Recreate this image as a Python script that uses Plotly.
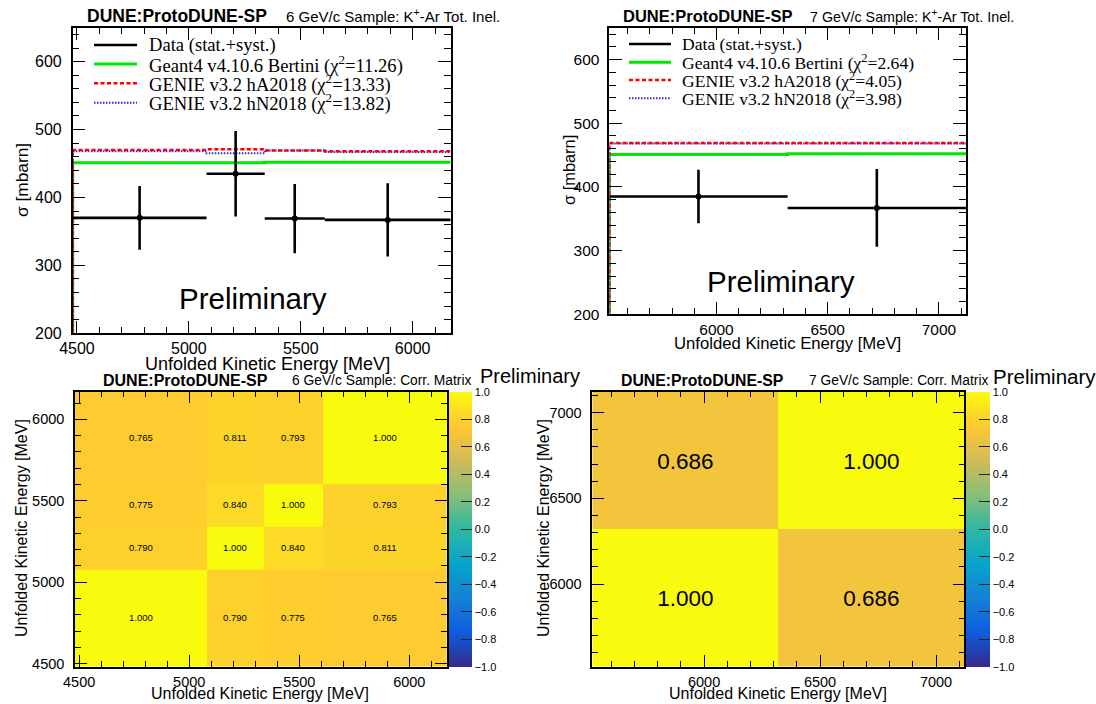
import plotly.graph_objects as go

W, H = 1096, 704

# ---- 6 GeV/c sample: K+-Ar total inelastic cross section ----
edges6 = [4481, 5079, 5339, 5607, 6170]
data6 = [370, 435, 369, 367]
err6 = [47, 63, 51, 54]
geant4_6 = [451, 451, 452, 452]
genie_ha_6 = [470, 471, 469, 468]
genie_hn_6 = [468, 465, 469, 467]
chi2_6 = ["11.26", "13.33", "13.82"]

# ---- 7 GeV/c sample ----
edges7 = [5518, 6320, 7122]
data7 = [385, 367]
err7 = [42, 61]
geant4_7 = [451, 452]
genie_ha_7 = [469, 469]
genie_hn_7 = [468, 468]
chi2_7 = ["2.64", "4.05", "3.98"]

# ---- correlation matrices (rows = y bins, bottom to top) ----
corr6 = [
    [1.000, 0.790, 0.775, 0.765],
    [0.790, 1.000, 0.840, 0.811],
    [0.775, 0.840, 1.000, 0.793],
    [0.765, 0.811, 0.793, 1.000],
]
corr7 = [
    [1.000, 0.686],
    [0.686, 1.000],
]

SANS = "Liberation Sans, Arial, sans-serif"
SERIF = "Liberation Serif, Times New Roman, serif"

# ROOT "bird" palette
_stops = [0.0, 0.125, 0.25, 0.375, 0.5, 0.625, 0.75, 0.875, 1.0]
_r = [0.2082, 0.0592, 0.0780, 0.0232, 0.1802, 0.5301, 0.8186, 0.9956, 0.9764]
_g = [0.1664, 0.3599, 0.5041, 0.6419, 0.7178, 0.7492, 0.7328, 0.7862, 0.9832]
_b = [0.5293, 0.8684, 0.8385, 0.7914, 0.6425, 0.4662, 0.3499, 0.1968, 0.0539]
bird = [[s, "rgb(%d,%d,%d)" % (round(r * 255), round(g * 255), round(b * 255))]
        for s, r, g, b in zip(_stops, _r, _g, _b)]


def px(x):
    return x / W


def py(y):
    return 1 - y / H


def centers(edges):
    return [(a + b) / 2 for a, b in zip(edges[:-1], edges[1:])]


def halfwidths(edges):
    return [(b - a) / 2 for a, b in zip(edges[:-1], edges[1:])]


def step(edges, vals):
    # histogram outline starting from zero at the low edge
    xs = [edges[0]] + list(edges[:-1]) + [edges[-1]]
    ys = [0] + list(vals) + [vals[-1]]
    return xs, ys


fig = go.Figure()

RED = "rgb(255,0,0)"
BLUE = "rgb(40,40,255)"
GREEN = "rgb(0,230,0)"

styles = {
    "g4": dict(color=GREEN, width=3, dash="solid"),
    "hn": dict(color=BLUE, width=2, dash="1.5px,1.5px"),
    "ha": dict(color=RED, width=2.5, dash="4px,2.5px"),
}


def xs_panel(edges, data, err, g4, ha, hn, xa, ya):
    for key, vals in (("g4", g4), ("hn", hn), ("ha", ha)):
        sx, sy = step(edges, vals)
        fig.add_trace(go.Scatter(x=sx, y=sy, mode="lines", line_shape="hv",
                                 line=styles[key], xaxis=xa, yaxis=ya,
                                 showlegend=False, hoverinfo="skip"))
    fig.add_trace(go.Scatter(
        x=centers(edges), y=data, mode="markers",
        marker=dict(color="black", size=6),
        error_x=dict(type="data", array=halfwidths(edges), width=0, thickness=2.6, color="black"),
        error_y=dict(type="data", array=err, width=0, thickness=2.6, color="black"),
        xaxis=xa, yaxis=ya, showlegend=False))


xs_panel(edges6, data6, err6, geant4_6, genie_ha_6, genie_hn_6, "x", "y")
xs_panel(edges7, data7, err7, geant4_7, genie_ha_7, genie_hn_7, "x2", "y2")


def corr_panel(edges, z, xa, ya, tsize, cbx, cbth):
    fig.add_trace(go.Heatmap(
        x=edges, y=edges, z=z, zmin=-1, zmax=1, colorscale=bird,
        texttemplate="%{z:.3f}", textfont=dict(family=SANS, size=tsize, color="black"),
        xaxis=xa, yaxis=ya, hoverinfo="skip",
        colorbar=dict(
            x=px(cbx), xanchor="left", xpad=0, ypad=0,
            y=py((391.7 + 666.7) / 2), yanchor="middle",
            len=275, lenmode="pixels", thickness=cbth, outlinewidth=0,
            tickvals=[-1 + 0.2 * i for i in range(11)], tickformat=".1f",
            ticks="inside", ticklen=11, tickwidth=1.3, tickcolor="#222",
            tickfont=dict(family=SANS, size=11, color="black"),
        )))


corr_panel(edges6, corr6, "x3", "y3", 9.5, 449, 23)
corr_panel(edges7, corr7, "x4", "y4", 22.5, 966, 24)


def axis(rng, dom, dtick, mdtick, fs, anchor, standoff, tl=13, tlm=7):
    return dict(range=rng, domain=dom, anchor=anchor, automargin=False,
                showline=True, linecolor="black", linewidth=1.5,
                mirror="allticks", ticks="inside", ticklen=tl, tickwidth=1, tickcolor="black",
                tick0=0, dtick=dtick, ticklabelstandoff=standoff,
                minor=dict(dtick=mdtick, ticks="inside", ticklen=tlm, tickwidth=1, tickcolor="black"),
                tickfont=dict(family=SANS, size=fs, color="black"),
                showgrid=False, zeroline=False, fixedrange=True)


fig.update_layout(
    template="none",
    width=W, height=H, margin=dict(l=0, r=0, t=0, b=0, autoexpand=False),
    paper_bgcolor="white", plot_bgcolor="white", showlegend=False,
    xaxis=axis([edges6[0], edges6[-1]], [px(72.7), px(450.7)], 500, 100, 16, "y", 0),
    yaxis=axis([200, 650], [py(333.3), py(27.7)], 100, 20, 16, "x", 6),
    xaxis2=axis([edges7[0], edges7[-1]], [px(609.3), px(966)], 500, 100, 15.5, "y2", 0),
    yaxis2=axis([200, 650], [py(314.3), py(27.7)], 100, 20, 15.5, "x2", 5),
    xaxis3=axis([edges6[0], edges6[-1]], [px(75), px(446.7)], 500, 100, 14.5, "y3", 1, tl=12, tlm=6),
    yaxis3=axis([edges6[0], edges6[-1]], [py(666.7), py(391.7)], 500, 100, 14.5, "x3", 6, tl=12, tlm=6),
    xaxis4=axis([edges7[0], edges7[-1]], [px(592.3), px(964.3)], 500, 100, 14.5, "y4", 1, tl=12, tlm=6),
    yaxis4=axis([edges7[0], edges7[-1]], [py(666.7), py(391.7)], 500, 100, 14.5, "x4", 6, tl=12, tlm=6),
)

ann = []


def text(x, y, s, size, family=SANS, xanchor="left", angle=0, bold=False):
    if bold:
        s = "<b>%s</b>" % s
    ann.append(dict(x=px(x), y=py(y), xref="paper", yref="paper", text=s, showarrow=False,
                    xanchor=xanchor, yanchor="middle", textangle=angle,
                    font=dict(family=family, size=size, color="black")))


# panel headers
text(85, 16, "DUNE:ProtoDUNE-SP", 17.5, bold=True)
text(284, 16, "6 GeV/c Sample: K<sup>+</sup>-Ar Tot. Inel.", 15)
text(621, 16, "DUNE:ProtoDUNE-SP", 16.5, bold=True)
text(808, 16, "7 GeV/c Sample: K<sup>+</sup>-Ar Tot. Inel.", 14.3)
text(101, 381, "DUNE:ProtoDUNE-SP", 16, bold=True)
text(290, 381, "6 GeV/c Sample: Corr. Matrix", 13.8)
text(619, 381, "DUNE:ProtoDUNE-SP", 15.8, bold=True)
text(807, 381, "7 GeV/c Sample: Corr. Matrix", 13.8)
text(478, 376, "Preliminary", 20)
text(991, 376, "Preliminary", 20.5)

# watermark inside the cross-section panels
text(253, 298, "Preliminary", 29.5, xanchor="center")
text(781, 281, "Preliminary", 29.5, xanchor="center")

# axis titles
text(267, 364, "Unfolded Kinetic Energy [MeV]", 18, xanchor="center")
text(787, 343, "Unfolded Kinetic Energy [MeV]", 16.7, xanchor="center")
text(260, 693, "Unfolded Kinetic Energy [MeV]", 16, xanchor="center")
text(778, 693, "Unfolded Kinetic Energy [MeV]", 16, xanchor="center")
text(22, 180, "σ [mbarn]", 17.3, xanchor="center", angle=-90)
text(569, 170, "σ [mbarn]", 16.4, xanchor="center", angle=-90)
text(21, 528, "Unfolded Kinetic Energy [MeV]", 16, xanchor="center", angle=-90)
text(543, 528, "Unfolded Kinetic Energy [MeV]", 16, xanchor="center", angle=-90)

# legends
shapes = []
leg_styles = [dict(color="black", width=2.6), styles["g4"], styles["ha"], styles["hn"]]


def legend(x0, x1, xt, rows, chi2, size):
    labels = ["Data (stat.+syst.)",
              "Geant4 v4.10.6 Bertini (χ<sup>2</sup>=%s)" % chi2[0],
              "GENIE v3.2 hA2018 (χ<sup>2</sup>=%s)" % chi2[1],
              "GENIE v3.2 hN2018 (χ<sup>2</sup>=%s)" % chi2[2]]
    for yy, lab, st in zip(rows, labels, leg_styles):
        shapes.append(dict(type="line", xref="paper", yref="paper",
                           x0=px(x0), x1=px(x1), y0=py(yy), y1=py(yy), line=st))
        text(xt, yy, lab, size, family=SERIF)


legend(94, 137, 147, [45, 64, 83.3, 102.7], chi2_6, 18.6)
legend(629, 671, 680, [44, 62.3, 80, 98.3], chi2_7, 17.6)

fig.update_layout(annotations=ann, shapes=shapes)

fig.write_html("out.html")
